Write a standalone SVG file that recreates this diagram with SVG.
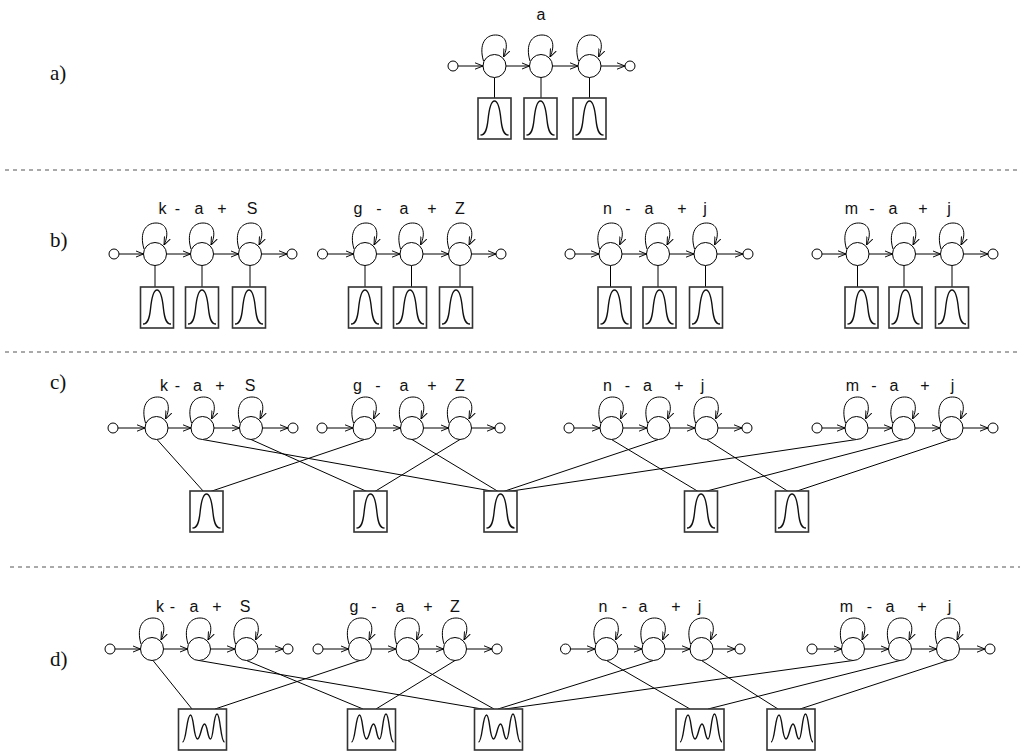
<svg xmlns="http://www.w3.org/2000/svg" xmlns:xlink="http://www.w3.org/1999/xlink" width="1020" height="752" viewBox="0 0 1020 752">
<style>
.ln{stroke:#000;stroke-width:1;fill:none}
.tr{stroke:#000;stroke-width:1;fill:none;marker-end:url(#ah)}
.st{fill:#fff;stroke:#000;stroke-width:1}
.lp{fill:none;stroke:#000;stroke-width:1;marker-end:url(#ah)}
.bx{fill:#fff;stroke:#333;stroke-width:1.6}
.gs{fill:none;stroke:#111;stroke-width:1.4}
.dash{stroke:#555;stroke-width:1;stroke-dasharray:4 4}
.lab{font-family:"Liberation Sans",Arial,sans-serif;font-size:16px;fill:#111;text-anchor:middle}
.pl{font-family:"Liberation Serif","Times New Roman",serif;font-size:21px;fill:#111}
</style>
<defs>
<marker id="ah" viewBox="0 0 10 10" refX="10" refY="5" markerWidth="8" markerHeight="8" orient="auto" markerUnits="userSpaceOnUse"><path d="M0,1 L10,5 L0,9" fill="none" stroke="#000" stroke-width="1.2"/></marker>
<g id="state"><path class="lp" d="M-11,-5 C-16,-22 -9,-31 1,-31 C11,-31 15,-22 9,-9"/><circle class="st" r="11.5"/></g>
<circle id="term" class="st" r="5"/>
<g id="gbox"><rect class="bx" x="-16.5" y="0" width="33" height="41"/><path class="gs" d="M-14,37 C-9,37 -7.5,31 -6.5,22 C-5.5,12 -4,3 0,3 C4,3 5.5,12 6.5,22 C7.5,31 9,37 14,37"/></g>
<g id="mbox"><rect class="bx" x="-24" y="0" width="48" height="41"/><path class="gs" d="M-20,33 C-16,33 -16,6 -12,6 C-8.5,6 -9,30 -5,30 C-2,30 -1,15 2,15 C5,15 5,30 8,30 C11,30 11,5 14.5,5 C18,5 18,33 22,33"/></g>
</defs>
<rect width="1020" height="752" fill="#fff"/>

<g id="panel-labels">
<text class="pl" x="50" y="80">a)</text>
<text class="pl" x="50" y="247">b)</text>
<text class="pl" x="50" y="389">c)</text>
<text class="pl" x="50" y="666">d)</text>
</g>
<g id="separators">
<line class="dash" x1="5" y1="170" x2="1020" y2="170"/>
<line class="dash" x1="5" y1="352" x2="1020" y2="352"/>
<line class="dash" x1="10" y1="567" x2="1020" y2="567"/>
</g>
<g id="model-labels">
<text class="lab" y="20"><tspan x="541">a</tspan></text>
<text class="lab" y="214"><tspan x="162.5">k</tspan><tspan x="177.5">-</tspan><tspan x="199">a</tspan><tspan x="222">+</tspan><tspan x="252">S</tspan><tspan x="358">g</tspan><tspan x="379">-</tspan><tspan x="404">a</tspan><tspan x="432">+</tspan><tspan x="460">Z</tspan><tspan x="607.5">n</tspan><tspan x="628">-</tspan><tspan x="649">a</tspan><tspan x="682">+</tspan><tspan x="705">j</tspan><tspan x="851.5">m</tspan><tspan x="872">-</tspan><tspan x="893">a</tspan><tspan x="923">+</tspan><tspan x="949">j</tspan></text>
<text class="lab" y="391"><tspan x="164">k</tspan><tspan x="177.5">-</tspan><tspan x="197.5">a</tspan><tspan x="220">+</tspan><tspan x="250">S</tspan><tspan x="357.5">g</tspan><tspan x="378">-</tspan><tspan x="404">a</tspan><tspan x="432">+</tspan><tspan x="460">Z</tspan><tspan x="607.5">n</tspan><tspan x="627.5">-</tspan><tspan x="647.5">a</tspan><tspan x="679">+</tspan><tspan x="702.5">j</tspan><tspan x="852.5">m</tspan><tspan x="874">-</tspan><tspan x="894">a</tspan><tspan x="925">+</tspan><tspan x="952.5">j</tspan></text>
<text class="lab" y="612"><tspan x="160">k</tspan><tspan x="172.5">-</tspan><tspan x="194">a</tspan><tspan x="217">+</tspan><tspan x="245">S</tspan><tspan x="354">g</tspan><tspan x="374">-</tspan><tspan x="400">a</tspan><tspan x="428">+</tspan><tspan x="455">Z</tspan><tspan x="603">n</tspan><tspan x="624.5">-</tspan><tspan x="643">a</tspan><tspan x="676">+</tspan><tspan x="699.5">j</tspan><tspan x="846.5">m</tspan><tspan x="869.5">-</tspan><tspan x="890">a</tspan><tspan x="922">+</tspan><tspan x="949.5">j</tspan></text>
</g>

<g id="connectors">
<!-- panel a -->
<line class="tr" x1="458" y1="66" x2="483" y2="66"/><line class="tr" x1="506" y1="66" x2="529.5" y2="66"/><line class="tr" x1="552.5" y1="66" x2="578" y2="66"/><line class="tr" x1="601" y1="66" x2="625" y2="66"/>
<line class="ln" x1="494.5" y1="77.5" x2="494.5" y2="101"/><line class="ln" x1="541" y1="77.5" x2="541" y2="101"/><line class="ln" x1="589.5" y1="77.5" x2="589.5" y2="101"/>
<!-- panel b -->
<line class="tr" x1="119" y1="254" x2="143.5" y2="254"/><line class="tr" x1="166.5" y1="254" x2="190.5" y2="254"/><line class="tr" x1="213.5" y1="254" x2="238.5" y2="254"/><line class="tr" x1="261.5" y1="254" x2="287" y2="254"/>
<line class="tr" x1="327.5" y1="254" x2="353.5" y2="254"/><line class="tr" x1="376.5" y1="254" x2="400" y2="254"/><line class="tr" x1="423" y1="254" x2="448.5" y2="254"/><line class="tr" x1="471.5" y1="254" x2="496" y2="254"/>
<line class="tr" x1="575" y1="254" x2="599" y2="254"/><line class="tr" x1="622" y1="254" x2="646.5" y2="254"/><line class="tr" x1="669.5" y1="254" x2="694" y2="254"/><line class="tr" x1="717" y1="254" x2="743" y2="254"/>
<line class="tr" x1="822" y1="254" x2="846" y2="254"/><line class="tr" x1="869" y1="254" x2="892.5" y2="254"/><line class="tr" x1="915.5" y1="254" x2="940.5" y2="254"/><line class="tr" x1="963.5" y1="254" x2="988" y2="254"/>
<line class="ln" x1="155" y1="265.5" x2="155" y2="290"/><line class="ln" x1="202" y1="265.5" x2="202" y2="290"/><line class="ln" x1="250" y1="265.5" x2="250" y2="290"/>
<line class="ln" x1="365" y1="265.5" x2="365" y2="290"/><line class="ln" x1="411.5" y1="265.5" x2="411.5" y2="290"/><line class="ln" x1="460" y1="265.5" x2="460" y2="290"/>
<line class="ln" x1="610.5" y1="265.5" x2="610.5" y2="290"/><line class="ln" x1="658" y1="265.5" x2="658" y2="290"/><line class="ln" x1="705.5" y1="265.5" x2="705.5" y2="290"/>
<line class="ln" x1="857.5" y1="265.5" x2="857.5" y2="290"/><line class="ln" x1="904" y1="265.5" x2="904" y2="290"/><line class="ln" x1="952" y1="265.5" x2="952" y2="290"/>
<!-- panel c -->
<line class="tr" x1="118" y1="428" x2="145" y2="428"/><line class="tr" x1="168" y1="428" x2="191" y2="428"/><line class="tr" x1="214" y1="428" x2="239.5" y2="428"/><line class="tr" x1="262.5" y1="428" x2="288" y2="428"/>
<line class="tr" x1="327" y1="428" x2="353" y2="428"/><line class="tr" x1="376" y1="428" x2="400.5" y2="428"/><line class="tr" x1="423.5" y1="428" x2="448.5" y2="428"/><line class="tr" x1="471.5" y1="428" x2="495" y2="428"/>
<line class="tr" x1="574" y1="428" x2="600" y2="428"/><line class="tr" x1="623" y1="428" x2="647" y2="428"/><line class="tr" x1="670" y1="428" x2="695" y2="428"/><line class="tr" x1="718" y1="428" x2="742" y2="428"/>
<line class="tr" x1="822" y1="428" x2="845" y2="428"/><line class="tr" x1="868" y1="428" x2="892" y2="428"/><line class="tr" x1="915" y1="428" x2="940" y2="428"/><line class="tr" x1="963" y1="428" x2="988" y2="428"/>
<line class="ln" x1="157" y1="439.5" x2="204" y2="492"/>
<line class="ln" x1="364.5" y1="439.5" x2="209" y2="492"/>
<line class="ln" x1="251" y1="439.5" x2="368" y2="492"/>
<line class="ln" x1="460" y1="439.5" x2="374" y2="492"/>
<line class="ln" x1="202.5" y1="439.5" x2="497" y2="492"/>
<line class="ln" x1="412" y1="439.5" x2="499" y2="492"/>
<line class="ln" x1="658.5" y1="439.5" x2="502" y2="492"/>
<line class="ln" x1="856.5" y1="439.5" x2="505" y2="492"/>
<line class="ln" x1="611.5" y1="439.5" x2="699" y2="492"/>
<line class="ln" x1="903.5" y1="439.5" x2="703" y2="492"/>
<line class="ln" x1="706.5" y1="439.5" x2="789" y2="492"/>
<line class="ln" x1="951.5" y1="439.5" x2="794" y2="492"/>
<!-- panel d -->
<line class="tr" x1="115" y1="649" x2="140.5" y2="649"/><line class="tr" x1="163.5" y1="649" x2="187.5" y2="649"/><line class="tr" x1="210.5" y1="649" x2="235" y2="649"/><line class="tr" x1="258" y1="649" x2="283" y2="649"/>
<line class="tr" x1="323" y1="649" x2="348.5" y2="649"/><line class="tr" x1="371.5" y1="649" x2="396" y2="649"/><line class="tr" x1="419" y1="649" x2="443.5" y2="649"/><line class="tr" x1="466.5" y1="649" x2="492" y2="649"/>
<line class="tr" x1="570.5" y1="649" x2="595" y2="649"/><line class="tr" x1="618" y1="649" x2="642" y2="649"/><line class="tr" x1="665" y1="649" x2="690" y2="649"/><line class="tr" x1="713" y1="649" x2="735" y2="649"/>
<line class="tr" x1="817" y1="649" x2="841.5" y2="649"/><line class="tr" x1="864.5" y1="649" x2="888.5" y2="649"/><line class="tr" x1="911.5" y1="649" x2="936.5" y2="649"/><line class="tr" x1="959.5" y1="649" x2="985" y2="649"/>
<line class="ln" x1="153" y1="660.5" x2="192" y2="709"/>
<line class="ln" x1="360" y1="660.5" x2="215" y2="709"/>
<line class="ln" x1="246.5" y1="660.5" x2="363" y2="709"/>
<line class="ln" x1="455" y1="660.5" x2="376" y2="709"/>
<line class="ln" x1="199" y1="660.5" x2="482" y2="709"/>
<line class="ln" x1="407.5" y1="660.5" x2="494" y2="709"/>
<line class="ln" x1="653.5" y1="660.5" x2="498" y2="709"/>
<line class="ln" x1="853" y1="660.5" x2="505" y2="709"/>
<line class="ln" x1="606.5" y1="660.5" x2="690" y2="709"/>
<line class="ln" x1="900" y1="660.5" x2="708" y2="709"/>
<line class="ln" x1="701.5" y1="660.5" x2="778" y2="709"/>
<line class="ln" x1="948" y1="660.5" x2="800" y2="709"/>
</g>

<!-- panel a nodes -->
<g id="a-start"><use href="#term" x="453" y="66"/></g>
<g id="a-s1"><use href="#state" x="494.5" y="66"/></g>
<g id="a-s2"><use href="#state" x="541" y="66"/></g>
<g id="a-s3"><use href="#state" x="589.5" y="66"/></g>
<g id="a-end"><use href="#term" x="630" y="66"/></g>
<g id="a-b1"><use href="#gbox" x="494.5" y="98"/></g>
<g id="a-b2"><use href="#gbox" x="540.5" y="98"/></g>
<g id="a-b3"><use href="#gbox" x="589.5" y="98"/></g>

<!-- panel b nodes -->
<g id="b1-start"><use href="#term" x="114" y="254"/></g>
<g id="b1-s1"><use href="#state" x="155" y="254"/></g>
<g id="b1-s2"><use href="#state" x="202" y="254"/></g>
<g id="b1-s3"><use href="#state" x="250" y="254"/></g>
<g id="b1-end"><use href="#term" x="292" y="254"/></g>
<g id="b1-b1"><use href="#gbox" x="157" y="287"/></g>
<g id="b1-b2"><use href="#gbox" x="202" y="287"/></g>
<g id="b1-b3"><use href="#gbox" x="249" y="287"/></g>
<g id="b2-start"><use href="#term" x="322.5" y="254"/></g>
<g id="b2-s1"><use href="#state" x="365" y="254"/></g>
<g id="b2-s2"><use href="#state" x="411.5" y="254"/></g>
<g id="b2-s3"><use href="#state" x="460" y="254"/></g>
<g id="b2-end"><use href="#term" x="501" y="254"/></g>
<g id="b2-b1"><use href="#gbox" x="365" y="287"/></g>
<g id="b2-b2"><use href="#gbox" x="410" y="287"/></g>
<g id="b2-b3"><use href="#gbox" x="456" y="287"/></g>
<g id="b3-start"><use href="#term" x="570" y="254"/></g>
<g id="b3-s1"><use href="#state" x="610.5" y="254"/></g>
<g id="b3-s2"><use href="#state" x="658" y="254"/></g>
<g id="b3-s3"><use href="#state" x="705.5" y="254"/></g>
<g id="b3-end"><use href="#term" x="748" y="254"/></g>
<g id="b3-b1"><use href="#gbox" x="614.5" y="287"/></g>
<g id="b3-b2"><use href="#gbox" x="659.5" y="287"/></g>
<g id="b3-b3"><use href="#gbox" x="706" y="287"/></g>
<g id="b4-start"><use href="#term" x="817" y="254"/></g>
<g id="b4-s1"><use href="#state" x="857.5" y="254"/></g>
<g id="b4-s2"><use href="#state" x="904" y="254"/></g>
<g id="b4-s3"><use href="#state" x="952" y="254"/></g>
<g id="b4-end"><use href="#term" x="993" y="254"/></g>
<g id="b4-b1"><use href="#gbox" x="861.5" y="287"/></g>
<g id="b4-b2"><use href="#gbox" x="905.5" y="287"/></g>
<g id="b4-b3"><use href="#gbox" x="952" y="287"/></g>

<!-- panel c nodes -->
<g id="c1-start"><use href="#term" x="113" y="428"/></g>
<g id="c1-s1"><use href="#state" x="156.5" y="428"/></g>
<g id="c1-s2"><use href="#state" x="202.5" y="428"/></g>
<g id="c1-s3"><use href="#state" x="251" y="428"/></g>
<g id="c1-end"><use href="#term" x="293" y="428"/></g>
<g id="c2-start"><use href="#term" x="322" y="428"/></g>
<g id="c2-s1"><use href="#state" x="364.5" y="428"/></g>
<g id="c2-s2"><use href="#state" x="412" y="428"/></g>
<g id="c2-s3"><use href="#state" x="460" y="428"/></g>
<g id="c2-end"><use href="#term" x="500" y="428"/></g>
<g id="c3-start"><use href="#term" x="569" y="428"/></g>
<g id="c3-s1"><use href="#state" x="611.5" y="428"/></g>
<g id="c3-s2"><use href="#state" x="658.5" y="428"/></g>
<g id="c3-s3"><use href="#state" x="706.5" y="428"/></g>
<g id="c3-end"><use href="#term" x="747" y="428"/></g>
<g id="c4-start"><use href="#term" x="817" y="428"/></g>
<g id="c4-s1"><use href="#state" x="856.5" y="428"/></g>
<g id="c4-s2"><use href="#state" x="903.5" y="428"/></g>
<g id="c4-s3"><use href="#state" x="951.5" y="428"/></g>
<g id="c4-end"><use href="#term" x="993" y="428"/></g>
<g id="c-b1"><use href="#gbox" x="206.5" y="491"/></g>
<g id="c-b2"><use href="#gbox" x="370.5" y="491"/></g>
<g id="c-b3"><use href="#gbox" x="500.5" y="491"/></g>
<g id="c-b4"><use href="#gbox" x="701" y="491"/></g>
<g id="c-b5"><use href="#gbox" x="792" y="491"/></g>

<!-- panel d nodes -->
<g id="d1-start"><use href="#term" x="110" y="649"/></g>
<g id="d1-s1"><use href="#state" x="152" y="649"/></g>
<g id="d1-s2"><use href="#state" x="199" y="649"/></g>
<g id="d1-s3"><use href="#state" x="246.5" y="649"/></g>
<g id="d1-end"><use href="#term" x="288" y="649"/></g>
<g id="d2-start"><use href="#term" x="318" y="649"/></g>
<g id="d2-s1"><use href="#state" x="360" y="649"/></g>
<g id="d2-s2"><use href="#state" x="407.5" y="649"/></g>
<g id="d2-s3"><use href="#state" x="455" y="649"/></g>
<g id="d2-end"><use href="#term" x="497" y="649"/></g>
<g id="d3-start"><use href="#term" x="565.5" y="649"/></g>
<g id="d3-s1"><use href="#state" x="606.5" y="649"/></g>
<g id="d3-s2"><use href="#state" x="653.5" y="649"/></g>
<g id="d3-s3"><use href="#state" x="701.5" y="649"/></g>
<g id="d3-end"><use href="#term" x="740" y="649"/></g>
<g id="d4-start"><use href="#term" x="812" y="649"/></g>
<g id="d4-s1"><use href="#state" x="853" y="649"/></g>
<g id="d4-s2"><use href="#state" x="900" y="649"/></g>
<g id="d4-s3"><use href="#state" x="948" y="649"/></g>
<g id="d4-end"><use href="#term" x="990" y="649"/></g>
<g id="d-b1"><use href="#mbox" x="202.5" y="709"/></g>
<g id="d-b2"><use href="#mbox" x="371.5" y="709"/></g>
<g id="d-b3"><use href="#mbox" x="498.5" y="709"/></g>
<g id="d-b4"><use href="#mbox" x="700" y="709"/></g>
<g id="d-b5"><use href="#mbox" x="791" y="709"/></g>
</svg>
